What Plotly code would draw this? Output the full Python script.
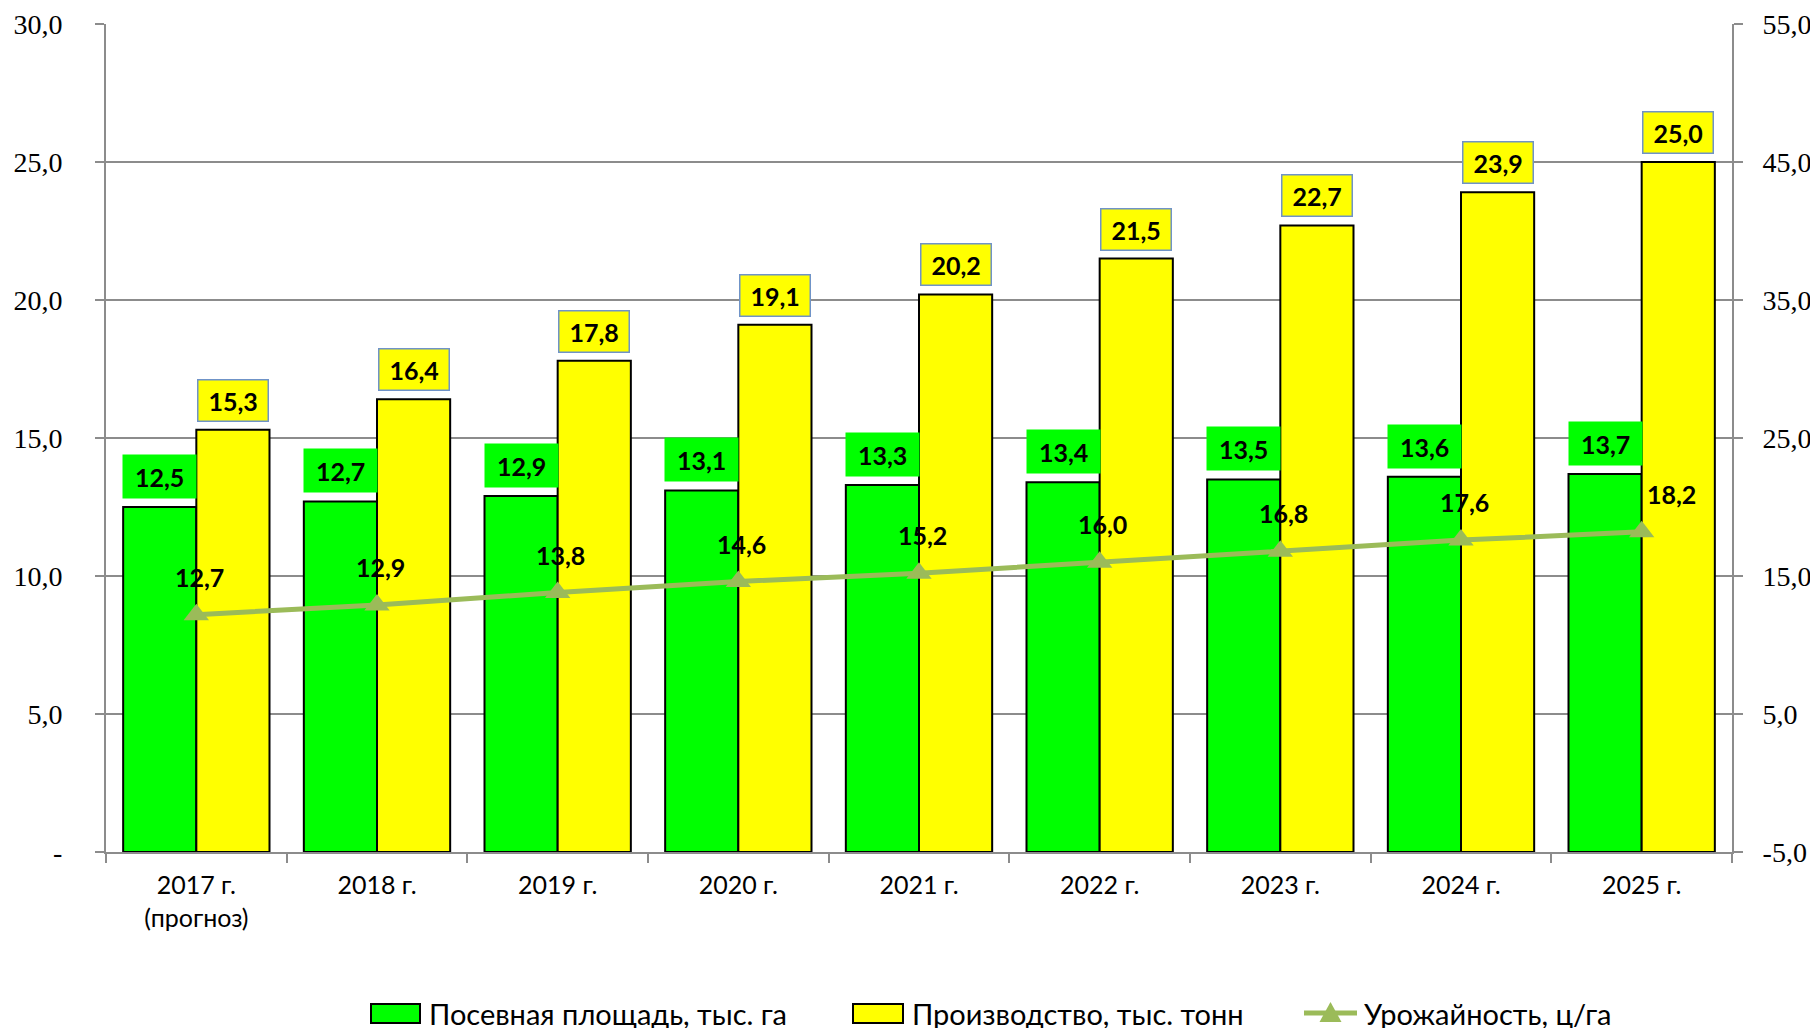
import plotly.graph_objects as go
from plotly.subplots import make_subplots

# ── Data ──────────────────────────────────────────────────────────────────────
categories = ["2017 г.<br>(прогноз)", "2018 г.", "2019 г.", "2020 г.", "2021 г.",
              "2022 г.", "2023 г.", "2024 г.", "2025 г."]
area = [12.5, 12.7, 12.9, 13.1, 13.3, 13.4, 13.5, 13.6, 13.7]          # тыс. га
production = [15.3, 16.4, 17.8, 19.1, 20.2, 21.5, 22.7, 23.9, 25.0]   # тыс. тонн
# plotted yield points (first marker sits lower than its printed label)
yield_ = [12.2, 12.9, 13.8, 14.6, 15.2, 16.0, 16.8, 17.6, 18.2]       # ц/га
yield_labels = ["12,7", "12,9", "13,8", "14,6", "15,2", "16,0", "16,8", "17,6", "18,2"]

series_names = ["Посевная площадь, тыс. га", "Производство, тыс. тонн", "Урожайность, ц/га"]

left_ticks = [0, 5, 10, 15, 20, 25, 30]
left_ticktext = ["-", "5,0", "10,0", "15,0", "20,0", "25,0", "30,0"]
right_ticks = [-5, 5, 15, 25, 35, 45, 55]
right_ticktext = ["-5,0", "5,0", "15,0", "25,0", "35,0", "45,0", "55,0"]

GREEN = "#00FF00"
YELLOW = "#FFFF00"
OLIVE = "#9BBB59"
GRID = "#8C8C8C"
SANS = "Lato, 'Open Sans', sans-serif"
SERIF = "'Liberation Serif', 'Times New Roman', serif"


def fmt(v):
    return f"{v:.1f}".replace(".", ",")


# page body has an 8px margin, so the figure is offset on screen
W, H, OFF = 1818, 1028, 8
PL, PR, PT, PB = 106, 1732, 24, 852          # plot area on screen
M = dict(l=PL - OFF, r=W + OFF - PR, t=PT - OFF, b=H + OFF - PB, autoexpand=False)
plot_w = PR - PL
plot_h = PB - PT
cat_w = plot_w / len(categories)
bargap = 0.19
bar_w = cat_w * (1 - bargap) / 2


def px_x(px):
    return (px - PL) / plot_w


def px_y(py):
    return (PB - py) / plot_h


fig = make_subplots(specs=[[{"secondary_y": True}]])

fig.add_trace(go.Bar(
    x=categories, y=area, name=series_names[0],
    marker=dict(color=GREEN, line=dict(color="#000000", width=2)),
), secondary_y=False)
fig.add_trace(go.Bar(
    x=categories, y=production, name=series_names[1],
    marker=dict(color=YELLOW, line=dict(color="#000000", width=2)),
), secondary_y=False)
fig.add_trace(go.Scatter(
    x=categories, y=yield_, name=series_names[2], mode="lines+markers",
    line=dict(color=OLIVE, width=5),
    marker=dict(symbol="triangle-up", size=22, color=OLIVE),
), secondary_y=True)

label_font = dict(family=SANS, size=25, color="#000000")
for i, cat in enumerate(categories):
    fig.add_annotation(
        x=cat, y=area[i], yref="y", text=f"<b>{fmt(area[i])}</b>",
        xshift=-bar_w / 2, yshift=8, yanchor="bottom", showarrow=False,
        bgcolor=GREEN, width=bar_w - 2, height=41, font=label_font,
    )
    fig.add_annotation(
        x=cat, y=production[i], yref="y", text=f"<b>{fmt(production[i])}</b>",
        xshift=bar_w / 2, yshift=8, yanchor="bottom", showarrow=False,
        bgcolor=YELLOW, bordercolor="#6F93C8", borderwidth=1.5,
        width=bar_w - 6, height=38, font=label_font,
    )
    last = i == len(categories) - 1
    fig.add_annotation(
        x=cat, y=yield_[i], yref="y2", text=f"<b>{yield_labels[i]}</b>",
        xshift=30 if last else 3, yshift=38, showarrow=False, font=label_font,
    )

# ── Custom legend (wide swatches like the original) ──────────────────────────
leg_font = dict(family=SANS, size=29, color="#000000")
sw_top, sw_bot, leg_mid = 1004, 1023, 1013
legend_items = [(371, 420, 427), (853, 903, 910), (1304, 1357, 1362)]
for k, (x0, x1, tx) in enumerate(legend_items):
    if k < 2:
        fig.add_shape(type="rect", xref="paper", yref="paper",
                      x0=px_x(x0), x1=px_x(x1), y0=px_y(sw_bot), y1=px_y(sw_top),
                      fillcolor=GREEN if k == 0 else YELLOW,
                      line=dict(color="#000000", width=2))
    else:
        fig.add_shape(type="line", xref="paper", yref="paper",
                      x0=px_x(x0), x1=px_x(x1), y0=px_y(leg_mid), y1=px_y(leg_mid),
                      line=dict(color=OLIVE, width=5))
        cx = (x0 + x1) / 2
        fig.add_shape(type="path", xref="paper", yref="paper",
                      path=(f"M {px_x(cx - 11)} {px_y(leg_mid + 9)} "
                            f"L {px_x(cx + 11)} {px_y(leg_mid + 9)} "
                            f"L {px_x(cx)} {px_y(leg_mid - 11)} Z"),
                      fillcolor=OLIVE, line=dict(width=0))
    fig.add_annotation(x=px_x(tx), y=px_y(leg_mid), xref="paper", yref="paper",
                       text=series_names[k], xanchor="left", yanchor="middle",
                       showarrow=False, font=leg_font)

fig.update_layout(
    width=W, height=H,
    barmode="group", bargap=bargap, bargroupgap=0,
    paper_bgcolor="#FFFFFF", plot_bgcolor="#FFFFFF",
    margin=M,
    showlegend=False,
)
fig.update_xaxes(
    domain=[0, 1], automargin=False, range=[-0.5, len(categories) - 0.5],
    showline=True, linecolor=GRID, linewidth=2, mirror=False,
    ticks="outside", tickson="boundaries", ticklen=9, tickcolor=GRID, tickwidth=2,
    tickfont=dict(family=SANS, size=25, color="#000000"), ticklabelstandoff=10,
)
fig.update_yaxes(
    automargin=False,
    range=[0, 30], tickvals=left_ticks, ticktext=left_ticktext,
    showline=True, linecolor=GRID, linewidth=2,
    ticks="outside", ticklen=9, tickcolor=GRID, tickwidth=2,
    showgrid=True, gridcolor=GRID, gridwidth=2, zeroline=False,
    tickfont=dict(family=SERIF, size=28, color="#000000"), ticklabelstandoff=27,
    secondary_y=False,
)
fig.update_yaxes(
    automargin=False,
    range=[-5, 55], tickvals=right_ticks, ticktext=right_ticktext,
    showline=True, linecolor=GRID, linewidth=2,
    ticks="outside", ticklen=9, tickcolor=GRID, tickwidth=2,
    showgrid=False, zeroline=False,
    tickfont=dict(family=SERIF, size=28, color="#000000"), ticklabelstandoff=14,
    secondary_y=True,
)

fig.write_html("out.html")
